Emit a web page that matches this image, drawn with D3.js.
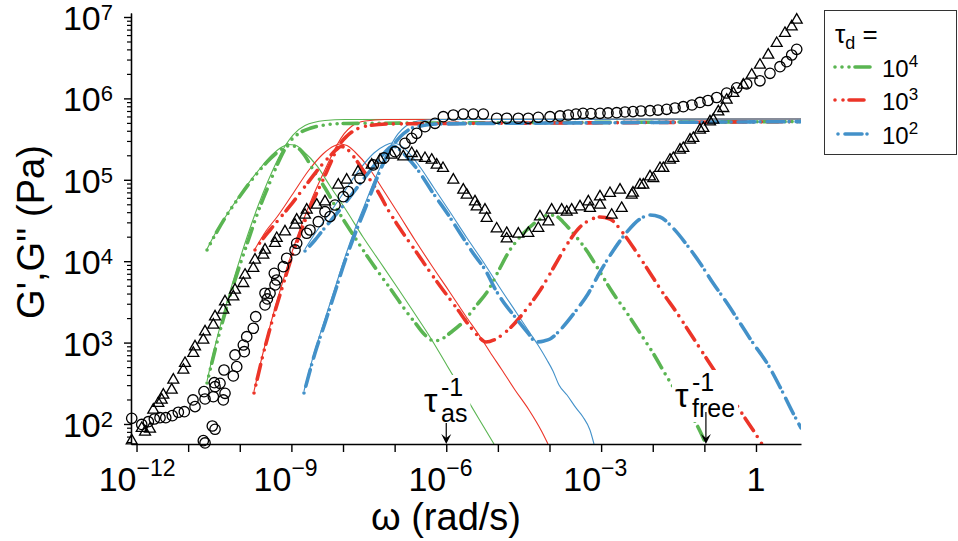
<!DOCTYPE html>
<html>
<head>
<meta charset="utf-8">
<script src="https://cdn.jsdelivr.net/npm/d3@7"></script>
<style>
  body { margin: 0; background: #fff; }
  svg { display: block; font-family: "Liberation Sans", Arial, Helvetica, sans-serif; }
</style>
</head>
<body>
<div id="chart"></div>
<script>
// Chart size and plot box (pixels)
const width = 958, height = 541;
const plot = { left: 131, right: 801, top: 13, bottom: 444 };

// Values are stored as [log10(omega), log10(G)] pairs
// Measured G' (open circles)
const circlesGp = [
  [-12.093,2.070],[-11.899,1.994],[-11.771,2.028],[-11.655,2.061],[-11.545,2.077],[-11.434,2.077],
  [-11.307,2.102],[-11.190,2.144],[-11.074,2.151],[-10.906,2.295],[-10.867,2.213],[-10.706,1.795],
  [-10.673,1.767],[-10.693,2.397],[-10.673,2.307],[-10.532,1.975],[-10.479,1.935],[-10.512,2.335],
  [-10.493,2.507],[-10.479,2.458],[-10.383,2.500],[-10.319,2.295],[-10.286,2.377],[-10.305,2.663],
  [-10.125,2.590],[-10.059,2.704],[-10.092,2.848],[-9.912,2.888],[-9.931,2.970],[-9.865,3.072],
  [-9.738,3.176],[-9.691,3.318],[-9.511,3.462],[-9.466,3.536],[-9.511,3.606],[-9.414,3.606],
  [-9.317,3.708],[-9.284,3.769],[-9.331,3.851],[-9.156,3.932],[-9.091,4.036],[-8.930,4.138],
  [-8.897,4.220],[-8.703,4.343],[-8.640,4.383],[-8.478,4.485],[-8.349,4.608],[-8.252,4.547],
  [-8.155,4.690],[-7.994,4.792],[-7.897,4.854],[-7.671,5.018],[-7.413,5.182],[-7.206,5.268],
  [-6.993,5.345],[-6.799,5.448],[-6.669,5.510],[-6.572,5.571],[-6.412,5.652],[-6.218,5.694],
  [-6.057,5.775],[-5.863,5.796],[-5.670,5.808],[-5.476,5.808],[-5.282,5.808],[-5.023,5.756],
  [-4.829,5.756],[-4.604,5.756],[-4.411,5.756],[-4.217,5.768],[-3.990,5.775],[-3.797,5.784],
  [-3.636,5.796],[-3.487,5.808],[-3.351,5.817],[-3.196,5.814],[-3.022,5.817],[-2.867,5.821],
  [-2.698,5.824],[-2.538,5.833],[-2.383,5.837],[-2.228,5.845],[-2.053,5.849],[-1.898,5.857],
  [-1.730,5.866],[-1.569,5.882],[-1.408,5.898],[-1.240,5.919],[-1.085,5.950],[-0.930,5.974],
  [-0.762,6.011],[-0.568,6.066],[-0.374,6.130],[-0.180,6.177],[0.077,6.216],[0.271,6.308],
  [0.465,6.389],[0.594,6.451],[0.692,6.533],[0.789,6.603]
];

// Measured G'' (open triangles)
const trianglesGpp = [
  [-12.093,1.795],[-11.899,1.947],[-11.835,1.902],[-11.739,1.939],[-11.675,2.172],[-11.578,2.254],
  [-11.512,2.295],[-11.481,2.356],[-11.318,2.418],[-11.287,2.541],[-11.093,2.663],[-11.061,2.746],
  [-10.900,2.869],[-10.867,2.950],[-10.706,3.032],[-10.673,3.134],[-10.512,3.216],[-10.479,3.318],
  [-10.319,3.400],[-10.286,3.502],[-10.125,3.564],[-10.092,3.646],[-9.931,3.728],[-9.898,3.830],
  [-9.738,3.913],[-9.705,4.015],[-9.544,4.076],[-9.511,4.138],[-9.317,4.220],[-9.284,4.281],
  [-9.124,4.362],[-8.930,4.445],[-8.897,4.506],[-8.736,4.567],[-8.703,4.629],[-8.509,4.690],
  [-8.349,4.731],[-8.091,4.936],[-7.929,4.998],[-7.710,5.096],[-7.444,5.182],[-7.283,5.243],
  [-7.057,5.305],[-6.832,5.284],[-6.669,5.325],[-6.572,5.284],[-6.412,5.264],[-6.282,5.243],
  [-6.185,5.182],[-6.063,5.141],[-5.863,4.998],[-5.670,4.875],[-5.604,4.813],[-5.443,4.731],
  [-5.410,4.670],[-5.250,4.629],[-5.217,4.527],[-5.023,4.398],[-4.829,4.343],[-4.829,4.275],
  [-4.604,4.334],[-4.411,4.343],[-4.217,4.404],[-4.184,4.547],[-4.023,4.485],[-3.958,4.629],
  [-3.764,4.629],[-3.667,4.604],[-3.570,4.629],[-3.409,4.670],[-3.248,4.731],[-3.216,4.650],
  [-3.022,4.792],[-3.022,4.690],[-2.828,4.834],[-2.795,4.567],[-2.634,4.875],[-2.602,4.650],
  [-2.408,4.813],[-2.383,4.838],[-2.247,4.936],[-2.183,4.936],[-2.053,5.038],[-1.989,5.018],
  [-1.859,5.141],[-1.795,5.141],[-1.666,5.243],[-1.601,5.264],[-1.472,5.366],[-1.408,5.387],
  [-1.278,5.489],[-1.214,5.510],[-1.085,5.612],[-1.020,5.633],[-0.891,5.714],[-0.827,5.735],
  [-0.730,5.837],[-0.633,5.878],[-0.568,5.980],[-0.439,6.063],[-0.246,6.165],[-0.083,6.287],
  [0.077,6.410],[0.238,6.533],[0.401,6.677],[0.561,6.800],[0.692,6.881],[0.789,6.963]
];

// Model curves, tau_d = 1e4 (green)
const greenThinGp = [[-10.634,2.528],[-10.479,2.958],[-10.286,3.413],[-10.092,3.830],[-9.840,4.334],[-9.647,4.678],[-9.453,4.985],[-9.259,5.256],[-9.104,5.434],[-8.969,5.550],[-8.736,5.667],[-8.349,5.728],[-7.961,5.741],[0.872,5.747]];
const greenThinGpp = [[-10.634,4.150],[-10.460,4.359],[-10.267,4.555],[-9.995,4.813],[-9.647,5.108],[-9.376,5.305],[-9.182,5.403],[-9.065,5.434],[-8.930,5.427],[-8.775,5.354],[-8.504,5.170],[-8.252,4.924],[-7.942,4.629],[-7.613,4.297],[-7.283,3.990],[-6.954,3.683],[-6.644,3.388],[-6.315,3.069],[-5.986,2.719],[-5.675,2.389],[-5.366,2.061],[-5.075,1.754]];
const greenGp = [[-10.634,2.504],[-10.479,2.909],[-10.286,3.364],[-10.092,3.769],[-9.840,4.248],[-9.647,4.604],[-9.453,4.912],[-9.259,5.206],[-9.065,5.440],[-8.872,5.563],[-8.620,5.636],[-8.349,5.673],[-7.961,5.692],[-4.959,5.700],[0.872,5.715]];
const greenGpp = [[-10.634,4.138],[-10.479,4.322],[-10.286,4.531],[-9.995,4.801],[-9.705,5.047],[-9.414,5.256],[-9.182,5.378],[-9.027,5.421],[-8.872,5.391],[-8.736,5.292],[-8.601,5.145],[-8.349,4.899],[-8.097,4.617],[-7.826,4.346],[-7.574,4.101],[-7.303,3.855],[-7.051,3.634],[-6.780,3.388],[-6.586,3.229],[-6.392,3.081],[-6.237,3.020],[-6.082,3.044],[-5.927,3.118],[-5.675,3.253],[-5.424,3.450],[-5.172,3.658],[-4.959,3.916],[-4.765,4.138],[-4.571,4.297],[-4.378,4.420],[-4.184,4.518],[-4.029,4.568],[-3.874,4.555],[-3.738,4.482],[-3.545,4.346],[-3.274,4.125],[-3.022,3.867],[-2.770,3.609],[-2.499,3.364],[-2.247,3.118],[-1.995,2.872],[-1.724,2.577],[-1.433,2.283],[-1.124,1.963],[-0.969,1.754]];

// Model curves, tau_d = 1e3 (red)
const redThinGp = [[-9.724,2.405],[-9.550,2.872],[-9.356,3.339],[-9.162,3.757],[-8.968,4.150],[-8.775,4.494],[-8.581,4.801],[-8.388,5.071],[-8.233,5.280],[-8.117,5.427],[-7.981,5.563],[-7.826,5.661],[-7.574,5.722],[-7.187,5.741],[0.872,5.747]];
const redThinGpp = [[-9.705,4.150],[-9.492,4.371],[-9.279,4.543],[-8.988,4.813],[-8.659,5.120],[-8.388,5.317],[-8.175,5.415],[-8.058,5.440],[-7.923,5.421],[-7.768,5.341],[-7.497,5.145],[-7.245,4.899],[-6.935,4.592],[-6.606,4.260],[-6.276,3.941],[-5.947,3.634],[-5.637,3.339],[-5.327,3.056],[-5.153,2.885],[-4.920,2.663],[-4.668,2.418],[-4.397,2.172],[-4.145,1.902],[-4.029,1.754]];
const redGp = [[-9.724,2.381],[-9.550,2.848],[-9.356,3.302],[-9.162,3.708],[-8.968,4.101],[-8.775,4.432],[-8.581,4.740],[-8.388,4.998],[-8.233,5.219],[-8.097,5.403],[-7.923,5.538],[-7.729,5.624],[-7.477,5.667],[-7.090,5.686],[-3.022,5.700],[0.872,5.715]];
const redGpp = [[-9.705,4.138],[-9.569,4.260],[-9.414,4.383],[-9.220,4.531],[-9.027,4.678],[-8.833,4.838],[-8.640,4.998],[-8.446,5.157],[-8.252,5.292],[-8.136,5.366],[-8.039,5.409],[-7.923,5.378],[-7.788,5.280],[-7.613,5.120],[-7.342,4.875],[-7.090,4.592],[-6.838,4.346],[-6.567,4.101],[-6.315,3.867],[-6.063,3.646],[-5.772,3.400],[-5.579,3.229],[-5.385,3.081],[-5.230,3.007],[-5.075,3.032],[-4.920,3.093],[-4.668,3.241],[-4.416,3.437],[-4.165,3.658],[-3.893,3.953],[-3.642,4.224],[-3.409,4.420],[-3.216,4.506],[-3.022,4.543],[-2.828,4.518],[-2.576,4.346],[-2.305,4.101],[-2.053,3.855],[-1.802,3.609],[-1.531,3.364],[-1.278,3.118],[-1.027,2.872],[-0.775,2.627],[-0.504,2.369],[-0.252,2.111],[-0.019,1.889],[0.116,1.754]];

// Model curves, tau_d = 1e2 (blue)
const blueThinGp = [[-8.756,2.405],[-8.542,2.909],[-8.349,3.290],[-8.155,3.671],[-7.961,4.052],[-7.768,4.396],[-7.574,4.703],[-7.380,5.010],[-7.206,5.256],[-7.070,5.427],[-6.935,5.563],[-6.780,5.661],[-6.547,5.722],[-6.179,5.741],[0.872,5.747]];
const blueThinGpp = [[-8.736,4.150],[-8.523,4.359],[-8.310,4.543],[-8.019,4.813],[-7.671,5.133],[-7.400,5.329],[-7.187,5.421],[-7.051,5.452],[-6.916,5.434],[-6.761,5.354],[-6.508,5.157],[-6.237,4.899],[-5.927,4.604],[-5.598,4.285],[-5.269,3.978],[-4.959,3.671],[-4.649,3.376],[-4.378,3.118],[-4.223,2.970],[-4.049,2.786],[-3.933,2.651],[-3.816,2.479],[-3.661,2.356],[-3.487,2.197],[-3.351,2.086],[-3.216,1.926],[-3.138,1.754]];
const blueGp = [[-8.756,2.381],[-8.542,2.872],[-8.349,3.241],[-8.155,3.622],[-7.961,4.002],[-7.768,4.334],[-7.574,4.641],[-7.380,4.961],[-7.206,5.219],[-7.051,5.403],[-6.896,5.526],[-6.702,5.624],[-6.450,5.667],[-6.121,5.686],[-3.022,5.700],[0.872,5.715]];
const blueGpp = [[-8.736,4.125],[-8.542,4.260],[-8.388,4.383],[-8.194,4.531],[-8.000,4.678],[-7.807,4.838],[-7.613,4.998],[-7.419,5.157],[-7.264,5.280],[-7.148,5.366],[-7.032,5.415],[-6.896,5.366],[-6.761,5.280],[-6.508,5.083],[-6.257,4.838],[-5.985,4.592],[-5.734,4.346],[-5.482,4.101],[-5.211,3.855],[-5.075,3.683],[-4.920,3.523],[-4.668,3.315],[-4.416,3.118],[-4.261,3.007],[-4.107,3.020],[-3.990,3.044],[-3.758,3.179],[-3.506,3.376],[-3.255,3.597],[-3.022,3.867],[-2.770,4.125],[-2.499,4.359],[-2.247,4.518],[-2.053,4.568],[-1.859,4.543],[-1.608,4.408],[-1.337,4.199],[-1.085,3.978],[-0.833,3.732],[-0.562,3.486],[-0.310,3.241],[-0.058,2.995],[0.213,2.749],[0.465,2.455],[0.717,2.135],[0.872,1.951]];

// Axis ticks and labels
const xTickExponents = [-12, -11, -10, -9, -8, -7, -6, -5, -4, -3, -2, -1, 0];
const xLabelExponents = [-12, -9, -6, -3, 0];
const yTickExponents = [2, 3, 4, 5, 6, 7];
const legendLabels = ["4", "3", "2"];
const tauAsLog = -6;      // tau_as^-1
const tauFreeLog = -0.97; // tau_free^-1

const colors = { green: "#5ab552", red: "#ec3428", blue: "#4391c9" };
const dashes = {
  green: "0,7,0,7,0,6,15,7",
  red: "0,8,0,6,15,7",
  blue: "0,7,17,5"
};

// Scales
const x = d3.scaleLog().domain([10 ** -12.107, 10 ** 0.872]).range([plot.left, plot.right]);
const y = d3.scaleLog().domain([10 ** 1.754, 10 ** 7.049]).range([plot.bottom, plot.top]);

const svg = d3.select("#chart")
    .append("svg")
    .attr("width", width)
    .attr("height", height);

svg.append("defs").append("clipPath")
    .attr("id", "plot-clip")
    .append("rect")
    .attr("x", plot.left)
    .attr("y", plot.top)
    .attr("width", plot.right - plot.left)
    .attr("height", plot.bottom - plot.top);

const line = d3.line()
    .x(d => x(10 ** d[0]))
    .y(d => y(10 ** d[1]))
    .curve(d3.curveMonotoneX);

const curves = svg.append("g").attr("clip-path", "url(#plot-clip)");

// Thin solid curves
[[greenThinGp, "green"], [greenThinGpp, "green"],
 [redThinGp, "red"], [redThinGpp, "red"],
 [blueThinGp, "blue"], [blueThinGpp, "blue"]].forEach(([data, c]) => {
    curves.append("path")
        .datum(data)
        .attr("d", line)
        .attr("fill", "none")
        .attr("stroke", colors[c])
        .attr("stroke-width", 1.1);
});

// Thick dotted/dashed curves
[[greenGp, "green"], [greenGpp, "green"],
 [redGp, "red"], [redGpp, "red"],
 [blueGp, "blue"], [blueGpp, "blue"]].forEach(([data, c]) => {
    curves.append("path")
        .datum(data)
        .attr("d", line)
        .attr("fill", "none")
        .attr("stroke", colors[c])
        .attr("stroke-width", 3.6)
        .attr("stroke-linecap", "round")
        .attr("stroke-dasharray", dashes[c]);
});

// Measured data markers
const markers = svg.append("g")
    .attr("fill", "none")
    .attr("stroke", "#000")
    .attr("stroke-width", 1.3);

markers.selectAll(".circ")
    .data(circlesGp)
    .enter()
    .append("circle")
    .attr("cx", d => x(10 ** d[0]))
    .attr("cy", d => y(10 ** d[1]))
    .attr("r", 5.2);

const tri = d3.symbol().type(d3.symbolTriangle).size(52);
markers.selectAll(".tri")
    .data(trianglesGpp)
    .enter()
    .append("path")
    .attr("d", tri)
    .attr("transform", d => `translate(${x(10 ** d[0])},${y(10 ** d[1])})`);

// X axis
svg.append("g")
    .attr("transform", `translate(0,${plot.bottom})`)
    .call(d3.axisBottom(x)
        .tickValues(xTickExponents.map(e => 10 ** e))
        .tickSize(8)
        .tickSizeOuter(0)
        .tickFormat(""))
    .call(g => g.selectAll("path, line").attr("stroke", "#000").attr("stroke-width", 1.4));

// Y axis: major and minor ticks
const yMinor = [];
for (let e = 1; e <= 6; e++) {
    for (let m = 2; m <= 9; m++) {
        const v = m * 10 ** e;
        if (v >= y.domain()[0] && v <= y.domain()[1]) yMinor.push(v);
    }
}
svg.append("g")
    .attr("transform", `translate(${plot.left},0)`)
    .call(d3.axisLeft(y)
        .tickValues(yMinor)
        .tickSize(4)
        .tickSizeOuter(0)
        .tickFormat(""))
    .call(g => g.selectAll("path, line").attr("stroke", "#000").attr("stroke-width", 1.2));
svg.append("g")
    .attr("transform", `translate(${plot.left},0)`)
    .call(d3.axisLeft(y)
        .tickValues(yTickExponents.map(e => 10 ** e))
        .tickSize(7)
        .tickSizeOuter(0)
        .tickFormat(""))
    .call(g => g.selectAll("path, line").attr("stroke", "#000").attr("stroke-width", 1.4));

// X tick labels: "10" ends at the tick, exponent starts there
const xLabels = svg.append("g").attr("fill", "#000");
xLabelExponents.forEach(e => {
    const px = x(10 ** e);
    if (e === 0) {
        xLabels.append("text")
            .attr("x", px).attr("y", 491)
            .attr("text-anchor", "middle")
            .attr("font-size", 34)
            .text("1");
        return;
    }
    xLabels.append("text")
        .attr("x", px).attr("y", 491)
        .attr("text-anchor", "end")
        .attr("font-size", 34)
        .text("10");
    xLabels.append("text")
        .attr("x", px).attr("y", 476)
        .attr("font-size", 23)
        .text("\u2212" + Math.abs(e));
});

// Y tick labels
yTickExponents.forEach(e => {
    const t = svg.append("text")
        .attr("x", 113)
        .attr("y", y(10 ** e) + 13)
        .attr("text-anchor", "end")
        .attr("font-size", 34);
    t.append("tspan").text("10");
    t.append("tspan").attr("font-size", 22).attr("dy", -10).text(e);
});

// Axis titles
svg.append("text")
    .attr("x", 446).attr("y", 530)
    .attr("text-anchor", "middle")
    .attr("font-size", 38)
    .text("\u03c9 (rad/s)");

svg.append("text")
    .attr("transform", "translate(44,232) rotate(-90)")
    .attr("text-anchor", "middle")
    .attr("font-size", 38)
    .text("G',G'' (Pa)");

// Tau annotations with white background box and arrow
function tauLabel(px, tx, baseY, sub, arrowTop) {
    const g = svg.append("g");
    g.append("text").attr("x", tx).attr("y", baseY).attr("font-size", 34).text("\u03c4");
    g.append("text").attr("x", tx + 17).attr("y", baseY + 10).attr("font-size", 25).text(sub);
    g.append("text").attr("x", tx + 17).attr("y", baseY - 16).attr("font-size", 25).text("-1");
    const bb = g.node().getBBox();
    g.insert("rect", ":first-child")
        .attr("x", bb.x - 3).attr("y", bb.y + 2)
        .attr("width", bb.width + 6).attr("height", bb.height - 2)
        .attr("fill", "#fff");
    svg.append("line")
        .attr("x1", px).attr("x2", px)
        .attr("y1", arrowTop).attr("y2", plot.bottom - 4)
        .attr("stroke", "#000").attr("stroke-width", 1.2);
    svg.append("path")
        .attr("d", `M${px},${plot.bottom} L${px - 5},${plot.bottom - 10} L${px},${plot.bottom - 6} L${px + 5},${plot.bottom - 10} Z`)
        .attr("fill", "#000");
}
tauLabel(x(10 ** tauAsLog), 424, 412, "as", 423);
tauLabel(x(10 ** tauFreeLog), 675, 407, "free", 412);

// Legend
const legend = svg.append("g");
legend.append("rect")
    .attr("x", 824.5).attr("y", 10.5)
    .attr("width", 132).attr("height", 144)
    .attr("fill", "#fff")
    .attr("stroke", "#333")
    .attr("stroke-width", 1);

const head = legend.append("text").attr("x", 835).attr("y", 43).attr("font-size", 26);
head.append("tspan").text("\u03c4");
head.append("tspan").attr("font-size", 18).attr("dy", 6).text("d");
head.append("tspan").attr("dy", -6).text(" =");

const legendRows = [
    { c: "green", y: 67, x0: 835, x1: 871 },
    { c: "red", y: 100, x0: 835, x1: 870 },
    { c: "blue", y: 134, x0: 838, x1: 868 }
];
legendRows.forEach((r, i) => {
    legend.append("line")
        .attr("x1", r.x0).attr("x2", r.x1)
        .attr("y1", r.y).attr("y2", r.y)
        .attr("stroke", colors[r.c])
        .attr("stroke-width", 3.6)
        .attr("stroke-linecap", "round")
        .attr("stroke-dasharray", dashes[r.c]);
    const t = legend.append("text")
        .attr("x", 882).attr("y", r.y + 10)
        .attr("font-size", 24);
    t.append("tspan").text("10");
    t.append("tspan").attr("font-size", 17).attr("dy", -10).text(legendLabels[i]);
});
</script>
</body>
</html>
